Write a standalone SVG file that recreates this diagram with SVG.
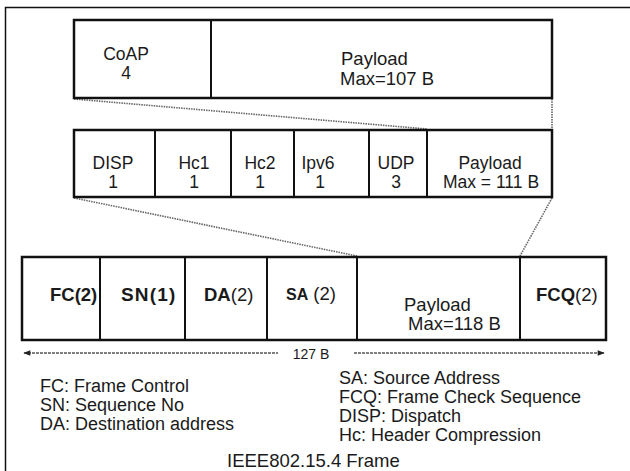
<svg xmlns="http://www.w3.org/2000/svg" width="630" height="471" viewBox="0 0 630 471">
<defs>
<style>
.box{fill:none;stroke:#111;stroke-width:2.5}
.div{stroke:#111;stroke-width:2}
.dot{stroke:#666;stroke-width:1.6;stroke-dasharray:1.5 1;fill:none}
text{font-family:"Liberation Sans",Arial,sans-serif;fill:#1a1a1a}
.t17{font-size:17.5px}
.t18{font-size:18.5px}
.b{font-weight:bold}
.mid{text-anchor:middle}
.leg{font-size:18px}
</style>
<marker id="ah" viewBox="0 0 10 10" refX="9" refY="5" markerWidth="9" markerHeight="7" orient="auto-start-reverse" markerUnits="userSpaceOnUse">
<path d="M0,1 L10,5 L0,9 z" fill="#222"/>
</marker>
</defs>
<rect width="630" height="471" fill="#fff"/>
<path d="M5.5,471 V7.5 H630" fill="none" stroke="#111" stroke-width="1.5"/>

<g id="connectors">
<line class="dot" x1="74" y1="99" x2="427" y2="129"/>
<line class="dot" x1="552" y1="99" x2="552" y2="129"/>
<line class="dot" x1="74" y1="198" x2="357" y2="256"/>
<line class="dot" x1="552" y1="198" x2="520" y2="256"/>
<line x1="24" y1="353" x2="278" y2="353" stroke="#555" stroke-width="1.4" stroke-dasharray="3 1" marker-start="url(#ah)"/>
<line x1="354" y1="353" x2="604" y2="353" stroke="#555" stroke-width="1.4" stroke-dasharray="3 1" marker-end="url(#ah)"/>
<text x="311" y="359" class="mid" style="font-size:14px">127 B</text>
</g>

<g id="coap-frame">
<rect class="box" x="74" y="20" width="478" height="78"/>
<line class="div" x1="211" y1="20" x2="211" y2="98"/>
<g id="coap"><text class="t17 mid" x="126" y="60">CoAP</text><text class="t17 mid" x="126" y="79">4</text></g>
<g id="coap-payload"><text class="t18" x="341" y="65">Payload</text><text class="t18" x="340" y="85">Max=107 B</text></g>
</g>

<g id="lowpan-frame">
<rect class="box" x="74" y="130" width="478" height="67"/>
<line class="div" x1="155" y1="130" x2="155" y2="197"/>
<line class="div" x1="231" y1="130" x2="231" y2="197"/>
<line class="div" x1="294" y1="130" x2="294" y2="197"/>
<line class="div" x1="369" y1="130" x2="369" y2="197"/>
<line class="div" x1="427" y1="130" x2="427" y2="197"/>
<g id="disp"><text class="t17 mid" x="113" y="169">DISP</text><text class="t17 mid" x="113" y="188">1</text></g>
<g id="hc1"><text class="t17 mid" x="194" y="169">Hc1</text><text class="t17 mid" x="194" y="188">1</text></g>
<g id="hc2"><text class="t17 mid" x="260" y="169">Hc2</text><text class="t17 mid" x="260" y="188">1</text></g>
<g id="ipv6"><text class="t17 mid" x="318" y="169">Ipv6</text><text class="t17 mid" x="320" y="188">1</text></g>
<g id="udp"><text class="t17 mid" x="396" y="169">UDP</text><text class="t17 mid" x="396" y="188">3</text></g>
<g id="lowpan-payload"><text class="t17 mid" x="490" y="169">Payload</text><text class="t17 mid" x="491" y="188">Max = 111 B</text></g>
</g>

<g id="mac-frame">
<rect class="box" x="22" y="257" width="584" height="83"/>
<line class="div" x1="100" y1="257" x2="100" y2="340"/>
<line class="div" x1="185" y1="257" x2="185" y2="340"/>
<line class="div" x1="267" y1="257" x2="267" y2="340"/>
<line class="div" x1="357" y1="257" x2="357" y2="340"/>
<line class="div" x1="520" y1="257" x2="520" y2="340"/>
<g id="fc"><text class="t18 b" x="50" y="301">FC(2)</text></g>
<g id="sn"><text class="b" x="121" y="301" style="font-size:19px;letter-spacing:1.2px">SN(1)</text></g>
<g id="da"><text class="t18" x="204" y="301"><tspan class="b">DA</tspan>(2)</text></g>
<g id="sa"><text class="t18" x="286" y="300"><tspan class="b" style="font-size:16px">SA</tspan> (2)</text></g>
<g id="mac-payload"><text class="t18" x="404" y="311">Payload</text><text class="t18" x="408" y="330">Max=118 B</text></g>
<g id="fcq"><text class="t18" x="536" y="301"><tspan class="b">FCQ</tspan>(2)</text></g>
</g>

<g id="legend">
<text class="leg" x="40" y="392">FC: Frame Control</text>
<text class="leg" x="40" y="411">SN: Sequence No</text>
<text class="leg" x="40" y="430">DA: Destination address</text>
<text class="leg" x="339" y="384">SA: Source Address</text>
<text class="leg" x="339" y="403">FCQ: Frame Check Sequence</text>
<text class="leg" x="339" y="422">DISP: Dispatch</text>
<text class="leg" x="339" y="441">Hc: Header Compression</text>
<text class="leg" x="227" y="467" style="font-size:18.5px">IEEE802.15.4 Frame</text>
</g>
</svg>
